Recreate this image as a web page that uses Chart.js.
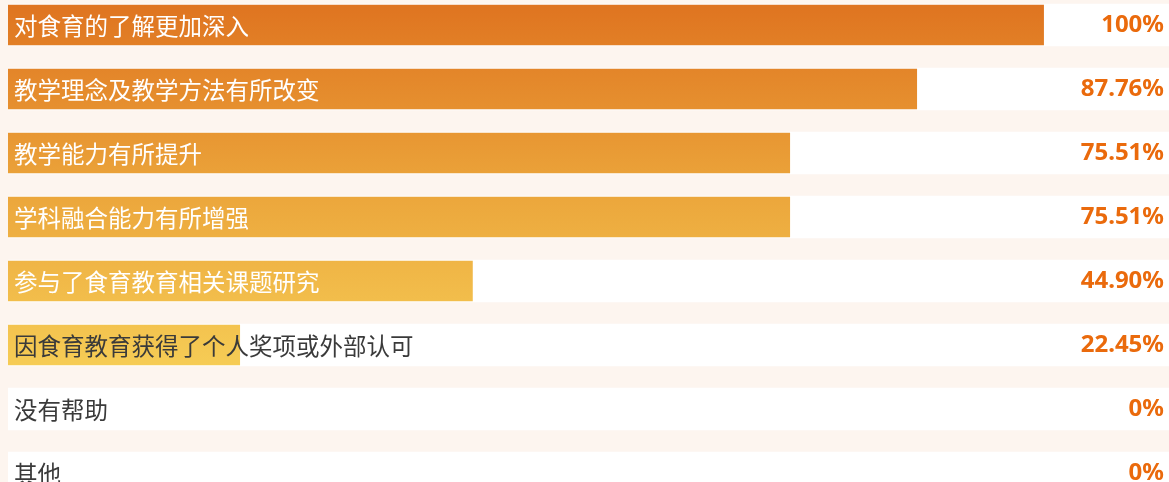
<!DOCTYPE html>
<html lang="zh-CN">
<head>
<meta charset="utf-8">
<title>食育教育收获</title>
<script src="https://cdn.jsdelivr.net/npm/chart.js@4.4.1/dist/chart.umd.min.js"></script>
<style>
  html, body { margin: 0; padding: 0; background: #fdf5ef; overflow: hidden; }
  #wrap { position: absolute; left: 0; top: -7px; width: 1169px; height: 512px; }
</style>
</head>
<body>
<div id="wrap"><canvas id="chart" width="1169" height="512"></canvas></div>
<script>
// Survey options, in display order
const categories = [
  '对食育的了解更加深入',
  '教学理念及教学方法有所改变',
  '教学能力有所提升',
  '学科融合能力有所增强',
  '参与了食育教育相关课题研究',
  '因食育教育获得了个人奖项或外部认可',
  '没有帮助',
  '其他'
];
// Share of respondents choosing each option (%)
const values = [100, 87.76, 75.51, 75.51, 44.90, 22.45, 0, 0];
const valueLabels = ['100%', '87.76%', '75.51%', '75.51%', '44.90%', '22.45%', '0%', '0%'];
// Upper bound of the value axis (leaves room for the percentages on the right)
const axisMax = 112;

const CJK = '"Noto Sans CJK SC", "Noto Sans", sans-serif';

// Warm orange-to-yellow gradient running down through the bars
function barGradient(context) {
  const chart = context.chart;
  const yScale = chart.scales.y;
  if (!chart.chartArea || !yScale) return '#e89c33';
  const top = yScale.getPixelForValue(0) - 21;
  const bottom = yScale.getPixelForValue(5) + 21;
  const g = chart.ctx.createLinearGradient(0, top, 0, bottom);
  g.addColorStop(0, '#df7420');
  g.addColorStop(0.5, '#eba43a');
  g.addColorStop(1, '#f6cc55');
  return g;
}

// Category names inside the rows, and the percentages at the right edge
const rowLabels = {
  id: 'rowLabels',
  afterDatasetsDraw(chart) {
    const ctx = chart.ctx;
    const meta = chart.getDatasetMeta(1);
    const right = chart.chartArea.right;
    ctx.save();
    meta.data.forEach((bar, i) => {
      const y = bar.y;
      const left = Math.min(bar.base, bar.x);
      const barWidth = Math.abs(bar.x - bar.base);

      ctx.font = '23.5px ' + CJK;
      ctx.textAlign = 'left';
      ctx.textBaseline = 'middle';
      const w = ctx.measureText(categories[i]).width;
      ctx.fillStyle = (barWidth > w + 14) ? '#ffffff' : '#3a3a3a';
      ctx.fillText(categories[i], left + 6, y + 1);

      ctx.font = 'bold 24px "Noto Sans", ' + CJK;
      ctx.textAlign = 'right';
      ctx.fillStyle = '#ea6a0c';
      ctx.fillText(valueLabels[i], right - 5, y);
    });
    ctx.restore();
  }
};

new Chart(document.getElementById('chart'), {
  type: 'bar',
  data: {
    labels: categories,
    datasets: [
      {
        label: 'track',
        data: categories.map(() => axisMax),
        backgroundColor: '#ffffff',
        borderWidth: 0,
        barThickness: 42,
        grouped: false,
        order: 2
      },
      {
        label: '占比',
        data: values,
        backgroundColor: barGradient,
        borderColor: 'rgba(255,255,255,0.28)',
        borderWidth: 1,
        barThickness: 42,
        grouped: false,
        order: 1
      }
    ]
  },
  options: {
    indexAxis: 'y',
    responsive: false,
    animation: false,
    devicePixelRatio: 1,
    layout: { padding: { left: 8, right: 0, top: 0, bottom: 0 } },
    plugins: {
      legend: { display: false },
      tooltip: { enabled: false }
    },
    scales: {
      x: { display: false, min: 0, max: axisMax },
      y: { display: false, offset: true }
    }
  },
  plugins: [rowLabels]
});
</script>
</body>
</html>
